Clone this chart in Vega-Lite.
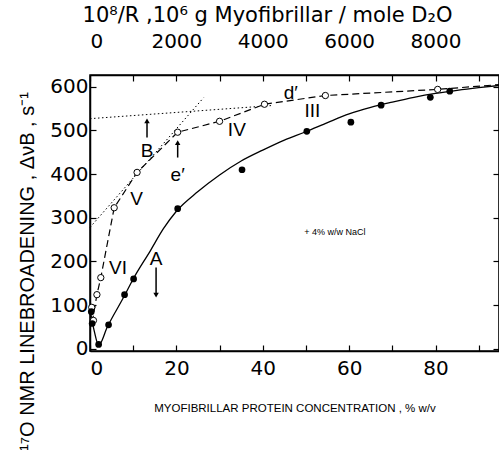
{
  "$schema": "https://vega.github.io/schema/vega-lite/v6.json",
  "width": 409,
  "height": 276,
  "autosize": {"type": "none"},
  "padding": {"left": 90, "top": 75, "right": 0, "bottom": 99},
  "background": "white",
  "config": {
    "view": {"stroke": "black", "strokeWidth": 1.5},
    "axis": {"domainColor": "black", "tickColor": "black", "labelColor": "black", "titleColor": "black", "labelFont": "DejaVu Sans", "titleFont": "DejaVu Sans", "labelFontSize": 20, "titleFontWeight": "normal", "grid": false, "domainWidth": 1.5, "tickWidth": 1.2}
  },
  "datasets": {
    "curve": [
      {"x": 0, "y": 90}, {"x": 1, "y": 40}, {"x": 2, "y": 8}, {"x": 4, "y": 50}, {"x": 8, "y": 122}, {"x": 10, "y": 160}, {"x": 14, "y": 225}, {"x": 17, "y": 275}, {"x": 20, "y": 315}, {"x": 25, "y": 360}, {"x": 30, "y": 398}, {"x": 35, "y": 430}, {"x": 40, "y": 455}, {"x": 45, "y": 478}, {"x": 50, "y": 497}, {"x": 55, "y": 518}, {"x": 60, "y": 538}, {"x": 65, "y": 553}, {"x": 70, "y": 565}, {"x": 75, "y": 576}, {"x": 80, "y": 585}, {"x": 85, "y": 592}, {"x": 90, "y": 598}, {"x": 94.7, "y": 603}
    ],
    "dashed": [
      {"x": 0.5, "y": 60}, {"x": 1.6, "y": 124}, {"x": 2.5, "y": 163}, {"x": 5.6, "y": 323}, {"x": 10.9, "y": 404}, {"x": 20.3, "y": 496}, {"x": 30, "y": 521}, {"x": 40.4, "y": 560}, {"x": 54.5, "y": 580}, {"x": 80.5, "y": 594}, {"x": 94.7, "y": 605}
    ],
    "dotted": [
      {"line": "a", "x": 0, "y": 527}, {"line": "a", "x": 42, "y": 557},
      {"line": "b", "x": 0, "y": 278}, {"line": "b", "x": 26.3, "y": 575}
    ],
    "filled": [
      {"x": 0.3, "y": 85}, {"x": 0.5, "y": 58}, {"x": 2, "y": 10}, {"x": 4.3, "y": 55}, {"x": 8, "y": 124}, {"x": 10.1, "y": 160}, {"x": 20.3, "y": 321}, {"x": 35.2, "y": 410}, {"x": 50.2, "y": 498}, {"x": 60.4, "y": 519}, {"x": 67.4, "y": 558}, {"x": 78.8, "y": 576}, {"x": 83.3, "y": 590}
    ],
    "open": [
      {"x": 0.4, "y": 95}, {"x": 0.8, "y": 65}, {"x": 1.6, "y": 124}, {"x": 2.5, "y": 163}, {"x": 5.6, "y": 323}, {"x": 10.9, "y": 404}, {"x": 20.3, "y": 496}, {"x": 30, "y": 521}, {"x": 40.4, "y": 560}, {"x": 54.5, "y": 580}, {"x": 80.5, "y": 594}
    ],
    "labels": [
      {"t": "VI", "x": 6.5, "y": 186}, {"t": "V", "x": 10.8, "y": 342}, {"t": "B", "x": 13.2, "y": 452}, {"t": "e′", "x": 20.3, "y": 398}, {"t": "IV", "x": 34, "y": 502}, {"t": "d′", "x": 46.5, "y": 585}, {"t": "III", "x": 51.5, "y": 545}, {"t": "A", "x": 15.3, "y": 205}
    ],
    "arrows": [
      {"x": 13.2, "y": 484, "y2": 522, "dir": "triangle-up"},
      {"x": 20.3, "y": 438, "y2": 472, "dir": "triangle-up"},
      {"x": 15.3, "y": 186, "y2": 123, "dir": "triangle-down"}
    ],
    "note": [{"t": "+ 4% w/w NaCl", "x": 56.7, "y": 268}]
  },
  "layer": [
    {
      "data": {"name": "curve"},
      "mark": {"type": "line", "interpolate": "monotone", "color": "black", "strokeWidth": 1.3},
      "encoding": {
        "x": {"field": "x", "type": "quantitative", "scale": {"domain": [0, 94.7], "nice": false, "zero": false},
          "axis": {"orient": "bottom", "values": [0, 10, 20, 30, 40, 50, 60, 70, 80, 90], "labelExpr": "datum.value % 20 == 0 ? datum.label : ''", "tickSize": -6, "labelPadding": 13, "title": "MYOFIBRILLAR PROTEIN CONCENTRATION , % w/v", "titleFont": "Liberation Sans", "titleFontSize": 11.5, "titleBaseline": "middle", "titleY": 57}},
        "y": {"field": "y", "type": "quantitative", "scale": {"domain": [-5, 627], "nice": false, "zero": false},
          "axis": {"orient": "left", "values": [0, 100, 200, 300, 400, 500, 600], "tickSize": -6, "labelPadding": 8, "title": "¹⁷O NMR LINEBROADENING , ΔνB , s⁻¹", "titleFont": "Liberation Sans", "titleFontSize": 20, "titleAngle": -90, "titleBaseline": "middle", "titleAlign": "center", "titleX": -63, "titleY": 196}}
      }
    },
    {
      "data": {"name": "dashed"},
      "mark": {"type": "line", "color": "black", "strokeWidth": 1.2, "strokeDash": [7, 4]},
      "encoding": {
        "x": {"field": "x", "type": "quantitative",
          "axis": {"orient": "top", "values": [0, 10, 20, 30, 40, 50, 60, 70, 80, 90], "labelExpr": "datum.value % 20 == 0 ? format(datum.value * 100, 'd') : ''", "tickSize": -6, "labelPadding": 30, "title": "10⁸/R ,10⁶ g Myofibrillar / mole D₂O", "titleFontSize": 21, "titleBaseline": "middle", "titleX": 177, "titleY": -60}},
        "y": {"field": "y", "type": "quantitative",
          "axis": {"orient": "right", "values": [0, 100, 200, 300, 400, 500, 600], "tickSize": -6, "labels": false, "title": null}}
      }
    },
    {
      "data": {"name": "dotted"},
      "mark": {"type": "line", "color": "black", "strokeWidth": 1, "strokeDash": [1.5, 2.5]},
      "encoding": {
        "x": {"field": "x", "type": "quantitative", "axis": null},
        "y": {"field": "y", "type": "quantitative", "axis": null},
        "detail": {"field": "line"}
      }
    },
    {
      "data": {"name": "open"},
      "mark": {"type": "point", "shape": "circle", "filled": true, "fill": "white", "stroke": "black", "strokeWidth": 1, "size": 40, "opacity": 1},
      "encoding": {
        "x": {"field": "x", "type": "quantitative", "axis": null},
        "y": {"field": "y", "type": "quantitative", "axis": null}
      }
    },
    {
      "data": {"name": "filled"},
      "mark": {"type": "point", "shape": "circle", "filled": true, "color": "black", "size": 45, "opacity": 1},
      "encoding": {
        "x": {"field": "x", "type": "quantitative", "axis": null},
        "y": {"field": "y", "type": "quantitative", "axis": null}
      }
    },
    {
      "data": {"name": "arrows"},
      "mark": {"type": "rule", "color": "black", "strokeWidth": 1.5},
      "encoding": {
        "x": {"field": "x", "type": "quantitative", "axis": null},
        "y": {"field": "y", "type": "quantitative", "axis": null},
        "y2": {"field": "y2"}
      }
    },
    {
      "data": {"name": "arrows"},
      "mark": {"type": "point", "filled": true, "color": "black", "size": 30, "opacity": 1},
      "encoding": {
        "x": {"field": "x", "type": "quantitative", "axis": null},
        "y": {"field": "y2", "type": "quantitative", "axis": null},
        "shape": {"field": "dir", "type": "nominal", "scale": {"domain": ["triangle-up", "triangle-down"], "range": ["triangle-up", "triangle-down"]}, "legend": null}
      }
    },
    {
      "data": {"name": "labels"},
      "mark": {"type": "text", "font": "Liberation Sans", "fontSize": 19, "color": "black", "align": "center", "baseline": "middle"},
      "encoding": {
        "x": {"field": "x", "type": "quantitative", "axis": null},
        "y": {"field": "y", "type": "quantitative", "axis": null},
        "text": {"field": "t"}
      }
    },
    {
      "data": {"name": "note"},
      "mark": {"type": "text", "font": "Liberation Sans", "fontSize": 9, "color": "black", "align": "center", "baseline": "middle"},
      "encoding": {
        "x": {"field": "x", "type": "quantitative", "axis": null},
        "y": {"field": "y", "type": "quantitative", "axis": null},
        "text": {"field": "t"}
      }
    }
  ]
}
